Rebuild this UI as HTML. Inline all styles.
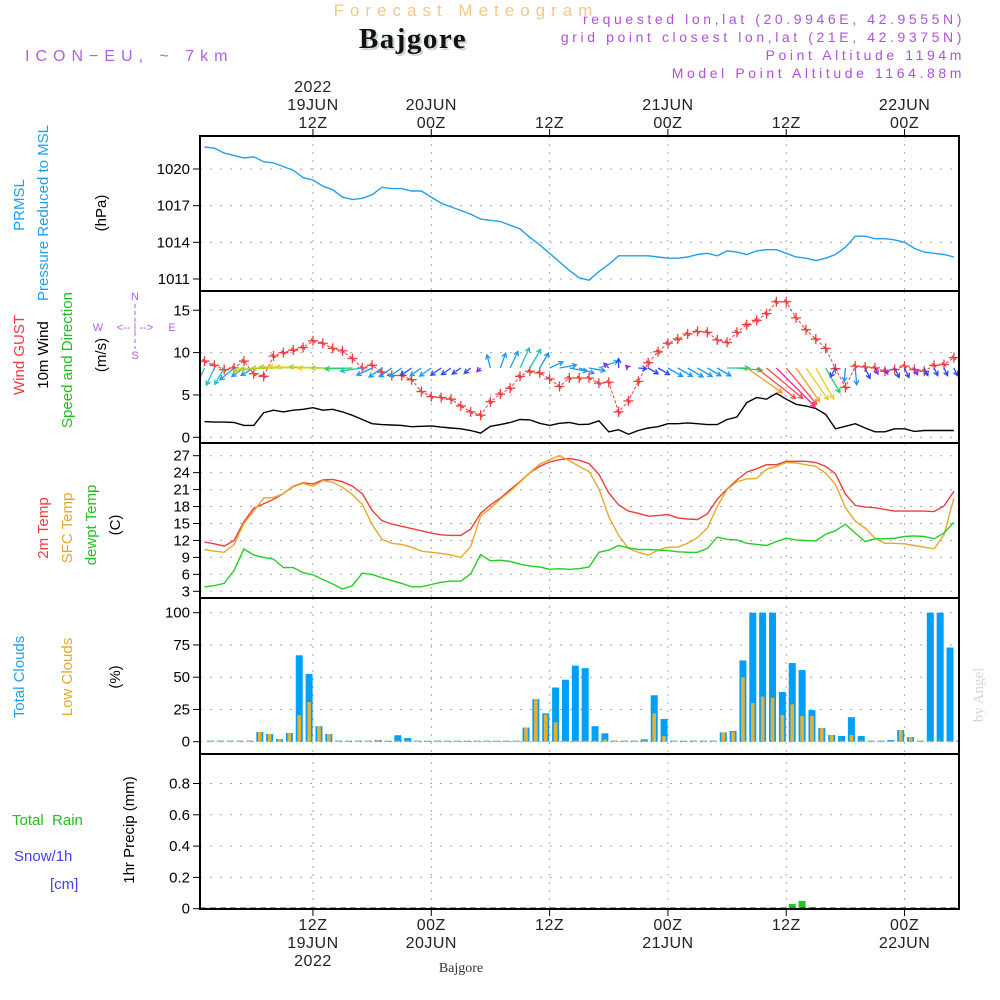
<!DOCTYPE html>
<html><head><meta charset="utf-8">
<style>
html,body{margin:0;padding:0;background:#fff;}
svg{display:block;font-family:"Liberation Sans",sans-serif;}
</style></head>
<body>
<svg id="chart" width="1000" height="1000" viewBox="0 0 1000 1000" xmlns="http://www.w3.org/2000/svg">
<rect x="0" y="0" width="1000" height="1000" fill="#fff"/>
<g>
<text x="466" y="16" text-anchor="middle" font-size="17" fill="#f3c88a" letter-spacing="6">Forecast Meteogram</text>
<text x="415" y="50" text-anchor="middle" font-size="29" font-weight="bold" font-family="Liberation Serif,serif" fill="#c8d8c8" letter-spacing="1.5">Bajgore</text>
<text x="413" y="48" text-anchor="middle" font-size="29" font-weight="bold" font-family="Liberation Serif,serif" fill="#111" letter-spacing="1.5">Bajgore</text>
<text x="25" y="61" font-size="16" fill="#b060e8" letter-spacing="6">ICON−EU, ~ 7km</text>
<g font-size="14" fill="#b050e0" text-anchor="end" letter-spacing="3.6">
<text x="965" y="24">requested lon,lat (20.9946E, 42.9555N)</text>
<text x="965" y="42">grid point closest lon,lat (21E, 42.9375N)</text>
<text x="965" y="60">Point Altitude 1194m</text>
<text x="965" y="78">Model Point Altitude 1164.88m</text>
</g>
</g>
<g font-size="15">
<text transform="translate(24,205) rotate(-90)" text-anchor="middle" fill="#1ea0f0">PRMSL</text>
<text transform="translate(48,213) rotate(-90)" text-anchor="middle" fill="#1ea0f0">Pressure Reduced to MSL</text>
<text transform="translate(106,213) rotate(-90)" text-anchor="middle" fill="#000">(hPa)</text>
<text transform="translate(24,355) rotate(-90)" text-anchor="middle" fill="#f03c3c">Wind GUST</text>
<text transform="translate(48,355) rotate(-90)" text-anchor="middle" fill="#000">10m Wind</text>
<text transform="translate(72,360) rotate(-90)" text-anchor="middle" fill="#20c020">Speed and Direction</text>
<text transform="translate(106,355) rotate(-90)" text-anchor="middle" fill="#000">(m/s)</text>
<g fill="#b060e8" font-size="11" text-anchor="middle">
<text x="135" y="300">N</text><text x="135" y="359">S</text><text x="98" y="331">W</text><text x="172" y="331">E</text>
<text x="135" y="331" font-size="11">&lt;-- | --&gt;</text>
<line x1="135" y1="304" x2="135" y2="349" stroke="#b060e8" stroke-dasharray="4,3"/>
</g>
<text transform="translate(48,528) rotate(-90)" text-anchor="middle" fill="#f03c3c">2m Temp</text>
<text transform="translate(72,528) rotate(-90)" text-anchor="middle" fill="#e8a828">SFC Temp</text>
<text transform="translate(96,525) rotate(-90)" text-anchor="middle" fill="#20c020">dewpt Temp</text>
<text transform="translate(120,525) rotate(-90)" text-anchor="middle" fill="#000">(C)</text>
<text transform="translate(24,677) rotate(-90)" text-anchor="middle" fill="#1ea0f0">Total Clouds</text>
<text transform="translate(72,677) rotate(-90)" text-anchor="middle" fill="#e8a828">Low Clouds</text>
<text transform="translate(120,677) rotate(-90)" text-anchor="middle" fill="#000">(%)</text>
<text x="12" y="825" fill="#20c020" xml:space="preserve">Total  Rain</text>
<text x="14" y="861" fill="#4040f0">Snow/1h</text>
<text x="50" y="889" fill="#4040f0">[cm]</text>
<text transform="translate(134,830) rotate(-90)" text-anchor="middle" fill="#000">1hr Precip (mm)</text>
</g>
<text transform="translate(983,695) rotate(-90)" text-anchor="middle" font-family="Liberation Serif,serif" font-size="15" fill="#d4d8d4">by Angel</text>
<text x="461" y="972" text-anchor="middle" font-family="Liberation Serif,serif" font-size="14" fill="#333">Bajgore</text>
<g id="plots"></g>
</svg>
<script>
// ---- data (hourly, hours 1..77 after 00Z 19JUN) ----
const hours = Array.from({length:77},(_,i)=>i+1);
const pressure = [1021.8,1021.7,1021.3,1021.1,1020.9,1021.0,1020.6,1020.5,1020.2,1019.9,
1019.3,1019.1,1018.6,1018.3,1017.7,1017.5,1017.6,1017.9,1018.5,1018.4,
1018.4,1018.2,1018.2,1017.7,1017.2,1016.9,1016.6,1016.3,1015.9,1015.8,
1015.7,1015.4,1015.1,1014.4,1013.8,1013.1,1012.4,1011.7,1011.1,1010.9,
1011.6,1012.2,1012.9,1012.9,1012.9,1012.9,1012.8,1012.7,1012.7,1012.8,
1013.0,1013.1,1012.9,1013.3,1013.2,1013.0,1013.3,1013.4,1013.4,1013.1,
1012.8,1012.7,1012.5,1012.7,1013.0,1013.6,1014.5,1014.5,1014.3,1014.3,
1014.2,1014.0,1013.5,1013.2,1013.1,1013.0,1012.8];
const windSpeed = [1.85,1.8,1.8,1.75,1.4,1.4,2.9,3.2,3.0,3.2,
3.3,3.5,3.2,3.3,3.0,2.6,2.1,1.6,1.5,1.45,
1.4,1.25,1.3,1.35,1.2,1.1,1.0,0.8,0.5,1.3,
1.5,1.75,2.1,2.05,1.65,1.4,1.65,1.75,1.5,1.55,
1.95,0.65,0.9,0.35,0.8,1.1,1.25,1.6,1.6,1.7,
1.6,1.5,1.5,2.1,2.4,4.1,4.7,4.5,5.2,4.5,
3.9,3.7,3.4,2.7,1.0,1.3,1.6,1.1,0.65,0.65,
1.0,1.0,0.7,0.8,0.8,0.8,0.8];
const windGust = [9.0,8.5,8.0,8.2,9.0,7.5,7.2,9.6,10.0,10.3,
10.6,11.4,11.1,10.5,10.2,9.3,8.2,8.5,7.7,7.3,
7.3,6.8,5.4,4.8,4.7,4.5,3.7,3.0,2.6,4.2,
5.1,5.8,7.2,7.8,7.6,6.9,6.0,7.0,7.0,7.0,
6.4,6.5,3.0,4.3,6.6,8.8,10.1,11.1,11.6,12.2,
12.5,12.4,11.5,11.2,12.4,13.3,13.8,14.6,16.0,16.0,
14.1,12.7,11.6,10.5,8.1,5.9,8.4,8.3,8.2,7.8,
8.0,8.4,8.0,7.8,8.5,8.6,9.4];
// direction the wind blows TOWARD (compass degrees)
const windToward = [205,205,210,230,235,240,265,268,270,272,
272,272,272,270,270,268,262,245,235,235,
235,235,235,235,235,235,235,230,225,345,
20,25,25,30,30,65,80,100,110,100,
70,315,0,315,95,120,120,120,120,120,
120,120,120,90,95,125,128,130,135,140,
145,145,150,150,210,185,175,155,155,155,
155,155,155,155,155,155,155];
const temp2m = [11.7,11.4,11.0,12.0,15.3,17.7,18.5,19.3,20.3,21.6,
22.2,22.0,22.7,22.8,22.4,21.6,20.3,17.3,15.5,14.9,
14.5,14.1,13.7,13.3,13.0,12.9,12.9,14.0,16.8,18.3,
19.5,21.0,22.4,24.0,25.1,25.9,26.3,26.5,26.2,25.6,
23.7,20.4,18.3,17.2,16.8,16.3,16.4,16.6,16.0,15.8,
15.7,16.7,19.3,21.1,22.7,24.1,24.7,25.4,25.4,26.0,
26.0,26.0,25.8,25.1,23.8,20.2,18.2,17.9,17.8,17.5,
17.2,17.2,17.2,17.2,17.1,18.1,20.7];
const tempSfc = [10.4,10.1,9.9,11.3,15.0,17.2,19.5,19.6,20.3,21.5,
22.1,21.6,22.6,22.3,21.4,20.1,18.4,14.8,12.2,11.5,
11.3,10.8,10.1,9.9,9.7,9.4,9.0,10.9,16.3,17.7,
19.3,20.7,22.3,24.0,25.5,26.3,27.0,26.1,25.1,24.2,
21.2,16.2,12.9,10.6,9.9,9.4,10.3,10.8,10.8,11.5,
12.5,14.2,18.0,21.0,22.4,22.9,23.0,24.6,25.1,25.8,
25.7,25.4,25.1,23.9,21.9,17.8,15.4,14.2,12.4,11.5,
11.5,11.4,11.1,10.8,10.5,13.0,19.5];
const dewpoint = [3.8,4.0,4.4,6.7,10.5,9.4,9.0,8.7,7.2,7.2,
6.3,5.9,5.1,4.3,3.4,4.0,6.2,6.0,5.4,4.9,
4.4,3.8,3.8,4.2,4.6,4.8,4.8,6.1,9.5,8.4,
8.5,8.3,7.8,7.5,7.3,6.9,7.0,6.9,7.0,7.3,
9.9,10.3,11.1,10.7,10.4,10.4,10.3,10.2,10.0,9.9,
9.9,10.6,12.6,12.2,12.1,11.5,11.3,11.1,11.8,12.4,
12.1,12.0,11.9,13.1,13.7,14.9,13.3,11.8,12.3,12.3,
12.4,12.7,12.8,12.7,12.3,13.3,15.2];
const totalClouds = [0,0,0,0,0, 7.5,6,2,6.7,67, 52.5,12,6,0,0, 0,0,1.3,0,5, 2.8,0,0,0,0, 0,0,0,0,0, 0,0,11,33,22, 42,48,59,57,12, 6.5,0,0,0,1.8, 36,17.6,0,0,0, 0,0,7.2,8.3,63, 100,100,100,38.5,61, 55.6,24.5,10.6,5.2,4.4, 19,4.4,0,0,1.3, 9,3.6,0,100,100, 73,0];
const lowClouds = [0,0,0,0,0, 7.5,6,2,6.7,20.7, 30.7,12,6,0,0, 0,0,1.3,0,0.5, 0,0,0,0,0, 0,0,0,0,0, 0,0,11,33,21, 15,0,0,0,0, 1.8,0,0,0,0, 22,4.4,0,0,0, 0,0,7.2,7.8,50, 30,35,34,20.7,29, 20,20,10.6,5.2,0, 5.2,0,0,0,0, 9,3.6,0,0,0, 0,0];
const precipHours = [60,61,62];
const precipValues = [0.03,0.05,0.01];
const pressureTicks = [1011,1014,1017,1020];
const windTicks = [0,5,10,15];
const tempTicks = [3,6,9,12,15,18,21,24,27];
const cloudTicks = [0,25,50,75,100];
const precipTicks = [0,0.2,0.4,0.6,0.8];
const timeTickHours = [12,24,36,48,60,72];
const topTimeLabels = [["2022","19JUN","12Z"],["","20JUN","00Z"],["","","12Z"],["","21JUN","00Z"],["","","12Z"],["","22JUN","00Z"]];
const bottomTimeLabels = [["12Z","19JUN","2022"],["00Z","20JUN",""],["12Z","",""],["00Z","21JUN",""],["12Z","",""],["00Z","22JUN",""]];

// ---- layout ----
const NS="http://www.w3.org/2000/svg";
const L=200, R=959;
const xh = h => 204.5 + (h-1)*9.86;
const barX = h => xh(h)+6;
const yP = v => 169 + (1020-v)*12.22;
const yW = v => 437.3 - v*8.47;
const yT = v => 455.7 + (27-v)*5.65;
const yC = v => 741.7 - v*1.29;
const yR = v => 908.7 - v*156.5;
const panels=[[136,291],[291,443],[443,598],[598,754],[754,909]];
const root=document.getElementById('plots');
function mk(tag,attrs,parent){const e=document.createElementNS(NS,tag);for(const k in attrs)e.setAttribute(k,attrs[k]);(parent||root).appendChild(e);return e;}
const clip=mk('clipPath',{id:'pc'});mk('rect',{x:L,y:136,width:R-L,height:909-136},clip);

function grid(ticks, yf, y0, y1, fmt){
  const g=mk('g',{});
  
  
  ticks.forEach(t=>{
    const y=yf(t);
    const gl=mk('line',{x1:L,x2:R,y1:y,y2:y,stroke:'#aaa','stroke-dasharray':'2,8'},g);
    
    
    mk('line',{x1:L-7,x2:L,y1:y,y2:y,stroke:'#000'},g);
    const tx=mk('text',{x:L-10,y:y+5,'text-anchor':'end','font-size':15,fill:'#000'},g);
    
    
    tx.textContent=fmt?fmt(t):t;
  });
  timeTickHours.forEach(h=>{
    const vl=mk('line',{x1:xh(h),x2:xh(h),y1:y0,y2:y1,stroke:'#aaa','stroke-dasharray':'2,6'},g);
    
    
  });
}
grid(pressureTicks,yP,136,291);
grid(windTicks,yW,291,443);
grid(tempTicks,yT,443,598);
grid(cloudTicks,yC,598,754);
grid(precipTicks,yR,754,909,t=>t===0?'0':t.toFixed(1));

function line(vals,yf,color,name){
  const pts=vals.map((v,i)=>xh(hours[i]).toFixed(1)+','+yf(v).toFixed(1)).join(' ');
  const p=mk('polyline',{points:pts,fill:'none',stroke:color,'stroke-width':1.4,'clip-path':'url(#pc)'});
  
  
  return p;
}
line(pressure,yP,'#1ea0f0','pressure-line');
line(windSpeed,yW,'#000','wind-speed-line');
const gl=line(windGust,yW,'#f03c3c','gust-line');
gl.setAttribute('stroke-dasharray','3,2');
gl.setAttribute('stroke-width','1');
windGust.forEach((v,i)=>{
  const x=xh(hours[i]),y=yW(v);
  const m=mk('path',{d:`M${x-5},${y}H${x+5}M${x},${y-5}V${y+5}M${x-2},${y-2}L${x+2},${y+2}`,stroke:'#f03c3c','stroke-width':1.3});
  
  
});
// wind arrows
const colorStops=[[0.5,'#8a2be2'],[1,'#2848ff'],[1.5,'#1e98f0'],[2,'#20c0c8'],[2.5,'#20d060'],[3,'#b8d020'],[3.5,'#e8d020'],[4,'#f0a020'],[4.5,'#ff4848'],[5,'#ff2098']];
function sc(s){let best=colorStops[0];colorStops.forEach(c=>{if(Math.abs(c[0]-s)<Math.abs(best[0]-s))best=c;});return best[1];}
windSpeed.forEach((s,i)=>{
  const a=windToward[i]*Math.PI/180, len=s*10.5;
  const x0=xh(hours[i]), y0=368;
  const x1=x0+Math.sin(a)*len, y1=y0-Math.cos(a)*len;
  const hl=5, b1=a+Math.PI-0.5, b2=a+Math.PI+0.5;
  const d=`M${x0},${y0}L${x1},${y1}M${x1+Math.sin(b1)*hl},${y1-Math.cos(b1)*hl}L${x1},${y1}L${x1+Math.sin(b2)*hl},${y1-Math.cos(b2)*hl}`;
  const p=mk('path',{d,stroke:sc(s),fill:'none','stroke-width':1.3,'clip-path':'url(#pc)'});
  
  
});
line(temp2m,yT,'#f03c3c','temp-2m-line');
line(tempSfc,yT,'#e8a828','temp-sfc-line');
line(dewpoint,yT,'#20d020','dewpoint-line');
// clouds
totalClouds.forEach((v,i)=>{
  const x=barX(hours[i]),y=yC(v);
  const b=mk('rect',{x:x-3.5,y:Math.min(y,yC(0)-1),width:7,height:Math.max(yC(0)-y,1),fill:'#00a0f8','clip-path':'url(#pc)'});
  
  
});
lowClouds.forEach((v,i)=>{
  const x=barX(hours[i]),y=yC(v);
  const b=mk('rect',{x:x-1.8,y:Math.min(y,yC(0)-1),width:3.6,height:Math.max(yC(0)-y,1),fill:'#e8b030','clip-path':'url(#pc)'});
  
  
});
precipValues.forEach((v,i)=>{
  const x=barX(precipHours[i]),y=yR(v);
  const b=mk('rect',{x:x-3.5,y:y,width:7,height:yR(0)-y,fill:'#20c820'});
  
  
});
// baseline dashes precip
const bl=mk('line',{x1:L,x2:R,y1:908,y2:908,stroke:'#333','stroke-dasharray':'6,4'});


// panel borders
panels.forEach(p=>{
  const r=mk('rect',{x:L,y:p[0],width:R-L,height:p[1]-p[0],fill:'none',stroke:'#000','stroke-width':2});
  
  
});
// time labels
timeTickHours.forEach((h,k)=>{
  const x=xh(h);
  mk('line',{x1:x,x2:x,y1:129,y2:136,stroke:'#000'});
  mk('line',{x1:x,x2:x,y1:909,y2:916,stroke:'#000'});
  topTimeLabels[k].forEach((t,j)=>{ if(!t) return;
    const tx=mk('text',{x:x,y:92+j*18,'text-anchor':'middle','font-size':16,fill:'#222','letter-spacing':'0.5'});
    
    
    tx.textContent=t; });
  bottomTimeLabels[k].forEach((t,j)=>{ if(!t) return;
    const tx=mk('text',{x:x,y:930+j*18,'text-anchor':'middle','font-size':16,fill:'#222','letter-spacing':'0.5'});
    
    
    tx.textContent=t; });
});
</script>
</body></html>
